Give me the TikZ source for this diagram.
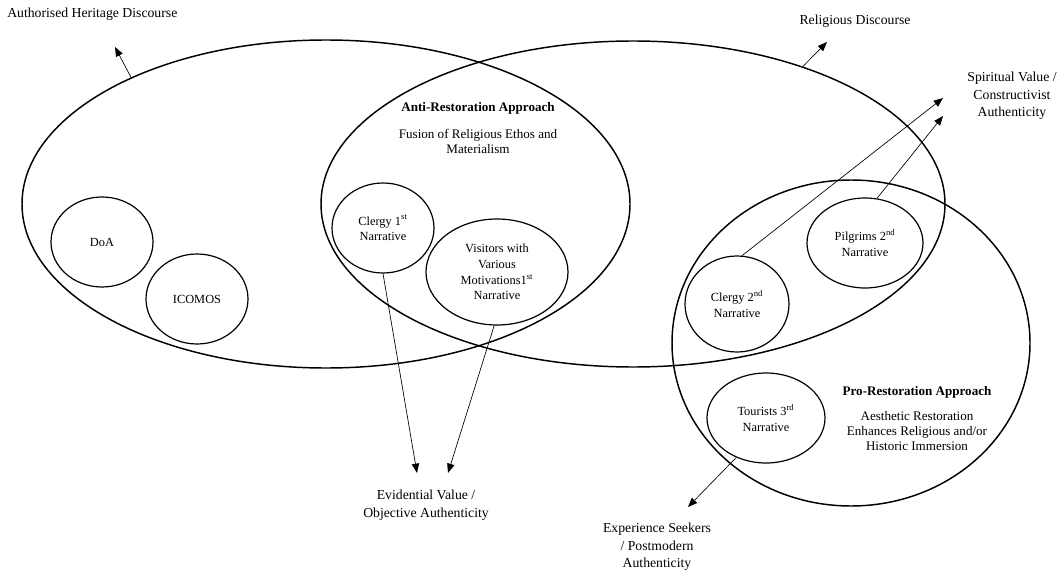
\documentclass[tikz,border=0pt]{standalone}
\usepackage{fontspec}
\setmainfont{Liberation Serif}
\usetikzlibrary{shapes.geometric,arrows.meta}
\begin{document}
\begin{tikzpicture}[x=0.75pt,y=-0.75pt,
  big/.style={ellipse, draw, line width=1.1pt, inner sep=0pt},
  sm/.style={ellipse, draw, line width=0.9pt, inner sep=0pt, align=center, font=\fontsize{9.3}{11.8}\selectfont},
  lab/.style={align=center, inner sep=0pt, font=\fontsize{10.3}{13.2}\selectfont},
  cam/.style={align=center, inner sep=0pt, font=\fontsize{9.8}{11.25}\selectfont},
  arr/.style={-{Triangle[length=7pt,width=5.5pt]}, line width=0.5pt}]
\useasboundingbox (0,0) rectangle (1063,574);
% big discourse ellipses
\node[big, minimum width=608*0.75pt, minimum height=328*0.75pt] (ahd) at (326,204) {};
\node[big, minimum width=624*0.75pt, minimum height=326*0.75pt] (rd) at (633,204) {};
\node[big, minimum width=358*0.75pt, minimum height=326*0.75pt] (pro) at (851,343) {};
% small ellipses
\node[sm, minimum width=102*0.75pt, minimum height=90*0.75pt] (doa) at (102,242) {DoA};
\node[sm, minimum width=102*0.75pt, minimum height=90*0.75pt] (icomos) at (197,299) {ICOMOS};
\node[sm, minimum width=102*0.75pt, minimum height=90*0.75pt] (clergyone) at (383,228) {Clergy 1\textsuperscript{st}\\Narrative};
\node[sm, minimum width=142*0.75pt, minimum height=106*0.75pt] (visitors) at (497,272) {Visitors with\\Various\\Motivations1\textsuperscript{st}\\Narrative};
\node[sm, minimum width=116*0.75pt, minimum height=90*0.75pt] (pilgrims) at (865,243) {Pilgrims 2\textsuperscript{nd}\\Narrative};
\node[sm, minimum width=104*0.75pt, minimum height=96*0.75pt] (clergytwo) at (737,304) {Clergy 2\textsuperscript{nd}\\Narrative};
\node[sm, minimum width=118*0.75pt, minimum height=90*0.75pt] (tourists) at (766,418) {Tourists 3\textsuperscript{rd}\\Narrative};
% labels
\node[lab, anchor=west] (ahdlab) at (7,14) {Authorised Heritage Discourse};
\node[lab] (rdlab) at (855,21) {Religious Discourse};
\node[lab] (spirit) at (1012,96) {Spiritual Value /\\Constructivist\\Authenticity};
\node[cam, font=\bfseries\fontsize{9.8}{11.25}\selectfont] (anti) at (478,108) {Anti-Restoration Approach};
\node[cam] (fusion) at (478,141.5) {Fusion of Religious Ethos and\\Materialism};
\node[lab] (evid) at (426,505) {Evidential Value /\\Objective Authenticity};
\node[lab] (exper) at (657,547) {Experience Seekers\\/ Postmodern\\Authenticity};
\node[cam, font=\bfseries\fontsize{9.8}{11.25}\selectfont] (prolab) at (917,392) {Pro-Restoration Approach};
\node[cam] (aesth) at (917,431.5) {Aesthetic Restoration\\Enhances Religious and/or\\Historic Immersion};
% arrow end points
\coordinate (ahdtip) at (115,47);
\coordinate (rdtip) at (827,42);
\coordinate (evidtipa) at (417,473);
\coordinate (evidtipb) at (448,473);
\coordinate (spirittipa) at (943,98);
\coordinate (spirittipb) at (943,116);
\coordinate (expertip) at (688,507);
% arrows
\draw[arr] (ahd.147) -- (ahdtip);
\draw[arr] (rd.39) -- (rdtip);
\draw[arr] (clergyone.south) -- (evidtipa);
\draw[arr] (visitors.-93) -- (evidtipb);
\draw[arr] (clergytwo.84) -- (spirittipa);
\draw[arr] (pilgrims.75) -- (spirittipb);
\draw[arr] (tourists.233) -- (expertip);
\end{tikzpicture}
\end{document}
